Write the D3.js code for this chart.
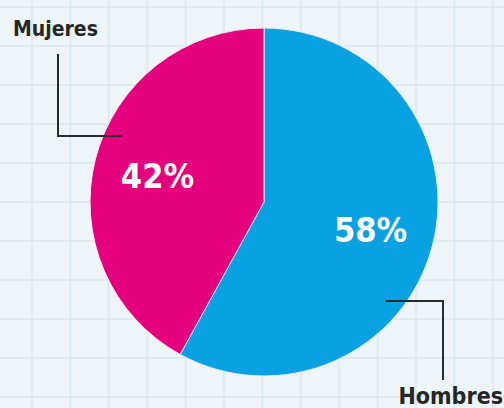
<!DOCTYPE html>
<html>
<head>
<meta charset="utf-8">
<script src="https://cdn.jsdelivr.net/npm/d3@7"></script>
<style>
  html, body { margin: 0; padding: 0; background: #eef5f8; }
  svg { display: block; }
  .label { font-family: "DejaVu Sans Condensed", "DejaVu Sans", sans-serif; font-weight: bold; fill: #262626; }
  .pct { font-family: "DejaVu Sans Condensed", "DejaVu Sans", sans-serif; font-weight: bold; fill: #fff; }
</style>
</head>
<body>
<div id="chart"></div>
<script>

// Data
var categories = ["Hombres", "Mujeres"];
var values = [58, 42];
var colors = ["#08a2e3", "#e5007e"];

var width = 504,
    height = 408;

var svg = d3.select("#chart").append("svg")
    .attr("width", width)
    .attr("height", height);

// background grid (graph paper)
svg.append("rect")
    .attr("width", width)
    .attr("height", height)
    .attr("fill", "#eef5f8");

var gridX = d3.range(32, width, 38.4);
var gridY = d3.range(7, height, 39);

svg.selectAll(".vgrid")
    .data(gridX)
    .enter().append("line")
    .attr("class", "vgrid")
    .attr("x1", function(d) { return d; })
    .attr("x2", function(d) { return d; })
    .attr("y1", 0)
    .attr("y2", height)
    .attr("stroke", "#dbe7ee")
    .attr("stroke-width", 1.5);

svg.selectAll(".hgrid")
    .data(gridY)
    .enter().append("line")
    .attr("class", "hgrid")
    .attr("y1", function(d) { return d; })
    .attr("y2", function(d) { return d; })
    .attr("x1", 0)
    .attr("x2", width)
    .attr("stroke", "#dbe7ee")
    .attr("stroke-width", 1.5);

// pie
var cx = 264, cy = 202, radius = 174;

var pie = d3.pie().sort(null).value(function(d) { return d.value; });
var data = categories.map(function(c, i) { return { name: c, value: values[i], color: colors[i] }; });

var arc = d3.arc().innerRadius(0).outerRadius(radius);
var labelArc = d3.arc().innerRadius(110).outerRadius(110);

var g = svg.append("g")
    .attr("transform", "translate(" + cx + "," + cy + ")");

g.selectAll(".slice")
    .data(pie(data))
    .enter().append("path")
    .attr("class", "slice")
    .attr("d", arc)
    .attr("fill", function(d) { return d.data.color; })
    .attr("stroke", "#f4e9f6")
    .attr("stroke-width", 1);

g.selectAll(".pct")
    .data(pie(data))
    .enter().append("text")
    .attr("class", "pct")
    .attr("transform", function(d) { return "translate(" + labelArc.centroid(d) + ")"; })
    .attr("text-anchor", "middle")
    .attr("dy", "0.38em")
    .style("font-size", "34px")
    .text(function(d) { return d.data.value + "%"; });

// leader lines + category labels
var callouts = {
    "Mujeres": { path: [[58, 54], [58, 136], [122, 136]], tx: 13, ty: 36, size: 21, anchor: "start" },
    "Hombres": { path: [[385, 301], [443, 301], [443, 380]], tx: 503, ty: 404, size: 23, anchor: "end" }
};

categories.forEach(function(c) {
    var co = callouts[c];
    svg.append("path")
        .attr("d", d3.line()(co.path))
        .attr("fill", "none")
        .attr("stroke", "#2b2b2b")
        .attr("stroke-width", 2);
    svg.append("text")
        .attr("class", "label")
        .attr("x", co.tx)
        .attr("y", co.ty)
        .attr("text-anchor", co.anchor)
        .style("font-size", co.size + "px")
        .text(c);
});

</script>
</body>
</html>
